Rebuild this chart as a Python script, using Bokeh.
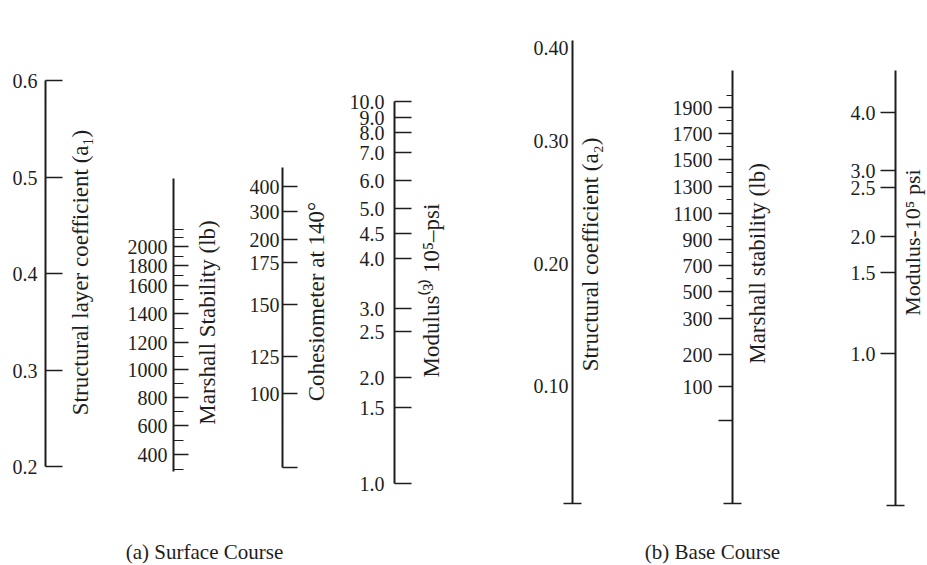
from math import pi
from bokeh.plotting import figure
from bokeh.models import Range1d
from bokeh.core.properties import value
from bokeh.embed import file_html
from bokeh.resources import INLINE

FONT = "Liberation Serif"
INK = "#1e1e1e"

# ---------------- data (tick values, labels, positions read along each scale) -------------
# (a) Surface course
a1_values = [0.6, 0.5, 0.4, 0.3, 0.2]
a1_labels = ["0.6", "0.5", "0.4", "0.3", "0.2"]
a1_pos = [80, 177, 273, 370, 466]

ms1_values = [2000, 1800, 1600, 1400, 1200, 1000, 800, 600, 400]
ms1_labels = ["2000", "1800", "1600", "1400", "1200", "1000", "800", "600", "400"]
ms1_pos = [246, 265, 285, 313, 342, 369, 397, 425, 454]
ms1_minor_values = [2200, 2100, 1900, 1700, 1500, 1300, 1100, 900, 700, 500, 300]
ms1_minor_pos = [229, 237, 256, 275, 299, 328, 356, 383, 411, 440, 469]

coh_values = [400, 300, 200, 175, 150, 125, 100]
coh_labels = ["400", "300", "200", "175", "150", "125", "100"]
coh_pos = [186, 211, 239, 262, 304, 356, 393]

mod1_values = [10.0, 9.0, 8.0, 7.0, 6.0, 5.0, 4.5, 4.0, 3.0, 2.5, 2.0, 1.5, 1.0]
mod1_labels = ["10.0", "9.0", "8.0", "7.0", "6.0", "5.0", "4.5", "4.0", "3.0", "2.5", "2.0", "1.5", "1.0"]
mod1_pos = [101, 117, 132, 152, 180, 208, 233, 258, 308, 331, 377, 407, 483]

# (b) Base course
a2_values = [0.40, 0.30, 0.20, 0.10]
a2_labels = ["0.40", "0.30", "0.20", "0.10"]
a2_pos = [47, 140, 263, 385]

ms2_values = [1900, 1700, 1500, 1300, 1100, 900, 700, 500, 300, 200, 100, 0]
ms2_labels = ["1900", "1700", "1500", "1300", "1100", "900", "700", "500", "300", "200", "100", ""]
ms2_pos = [107, 133, 159, 186, 213, 239, 265, 291, 318, 354, 386, 420]
ms2_minor_values = [2000, 1800, 1600, 1400, 1200, 1000, 800, 600, 400]
ms2_minor_pos = [95, 120, 146, 172, 199, 226, 252, 278, 305]

mod2_values = [4.0, 3.0, 2.5, 2.0, 1.5, 1.0]
mod2_labels = ["4.0", "3.0", "2.5", "2.0", "1.5", "1.0"]
mod2_pos = [112, 170, 187, 236, 272, 353]

captions = ["(a) Surface Course", "(b) Base Course"]

# ---------------- figure ----------------
W, H = 927, 565
p = figure(width=W, height=H, output_backend="svg", toolbar_location=None,
           x_range=Range1d(0, W), y_range=Range1d(H, 0),
           min_border=0, background_fill_color="white", border_fill_color="white")
p.axis.visible = False
p.grid.visible = False
p.outline_line_color = None

LABEL_SIZE = "20px"
TITLE_SIZE = "23px"


def scale(x, top, bottom, pos, labels, direction, tick_len, label_gap,
          minor_pos=None, minor_len=0, end=None):
    """Draw one nomograph scale: vertical line, ticks and right-aligned labels on its left."""
    p.segment(x0=[x], y0=[top], x1=[x], y1=[bottom], line_color=INK, line_width=2)
    p.segment(x0=[x] * len(pos), y0=pos, x1=[x + direction * tick_len] * len(pos), y1=pos,
              line_color=INK, line_width=1.5)
    if minor_pos:
        p.segment(x0=[x] * len(minor_pos), y0=minor_pos,
                  x1=[x + direction * minor_len] * len(minor_pos), y1=minor_pos,
                  line_color=INK, line_width=1.2)
    if end == "right":
        p.segment(x0=[x], y0=[bottom], x1=[x + 15], y1=[bottom], line_color=INK, line_width=1.5)
    elif end == "cross":
        p.segment(x0=[x - 9], y0=[bottom], x1=[x + 9], y1=[bottom], line_color=INK, line_width=1.5)
    lx = x - label_gap
    p.text(x=[lx] * len(pos), y=pos, text=labels, text_align="right", text_baseline="middle",
           text_font=value(FONT), text_font_size=LABEL_SIZE, text_color=INK)


def title(x, y, txt, size=TITLE_SIZE):
    p.text(x=[x], y=[y], text=[txt], angle=pi / 2, text_align="center", text_baseline="middle",
           text_font=value(FONT), text_font_size=size, text_color=INK)


# Surface course
scale(45, 80, 466, a1_pos, a1_labels, +1, 17, 8)
title(80, 272, "Structural layer coefficient (a\u2081)")

scale(173, 178, 471, ms1_pos, ms1_labels, +1, 15, 6, ms1_minor_pos, 10)
title(207, 322, "Marshall Stability (lb)")

scale(282, 167, 467, coh_pos, coh_labels, +1, 15, 3, end="right")
title(316, 301, "Cohesiometer at 140\u00b0")

scale(394, 101, 483, mod1_pos, mod1_labels, +1, 17, 10)
title(431, 290, "Modulus\u207d\u00b3\u207e 10\u2075\u2013psi")

# Base course
scale(572, 40, 503, a2_pos, a2_labels, +1, 0, 4, end="cross")
title(590, 254, "Structural coefficient (a\u2082)")

scale(732, 70, 503, ms2_pos, ms2_labels, -1, 14, 20, ms2_minor_pos, 6, end="cross")
title(757, 263, "Marshall stability (lb)")

scale(895, 70, 505, mod2_pos, mod2_labels, -1, 15, 20, end="cross")
title(912, 242, "Modulus-10\u2075 psi", "22px")

# Captions
p.text(x=[204, 712], y=[563, 563], text=captions, text_align="center", text_baseline="bottom",
       text_font=value(FONT), text_font_size="21px", text_color=INK)

open("out.html", "w").write(file_html(p, INLINE))
